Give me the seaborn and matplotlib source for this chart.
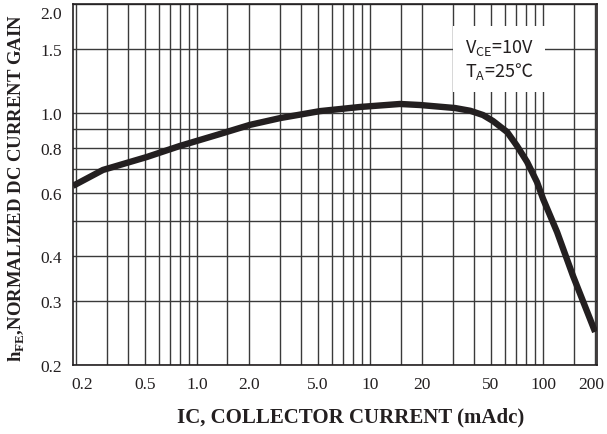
import numpy as np
import pandas as pd
import matplotlib
matplotlib.use("Agg")
import matplotlib.pyplot as plt
import matplotlib.transforms as mtransforms
import seaborn as sns

# ---- data ----
ic_ma = [0.192, 0.286, 0.514, 0.798, 1.36, 2.02, 3.02, 5.14, 8.75, 14.9, 19.5,
         31.0, 38.0, 45.0, 51.4, 62.0, 70.7, 80.9, 92.3, 100.0, 120.5, 149.0, 200.0]
hfe_norm = [0.627, 0.694, 0.754, 0.809, 0.873, 0.925, 0.966, 1.01, 1.037, 1.057, 1.05,
            1.03, 1.012, 0.985, 0.948, 0.884, 0.809, 0.730, 0.642, 0.577, 0.467, 0.353, 0.247]

x_tick_vals = [0.2, 0.5, 1.0, 2.0, 5.0, 10, 20, 50, 100, 200]
x_tick_labels = ["0.2", "0.5", "1.0", "2.0", "5.0", "10", "20", "50", "100", "200"]
y_tick_vals = [0.2, 0.3, 0.4, 0.6, 0.8, 1.0, 1.5, 2.0]
y_tick_labels = ["0.2", "0.3", "0.4", "0.6", "0.8", "1.0", "1.5", "2.0"]
x_grid_vals = [0.3, 0.4, 0.6, 0.7, 0.8, 0.9, 1.5, 3, 4, 6, 7, 8, 9,
               15, 30, 40, 60, 70, 80, 90, 150]
y_grid_vals = [0.5, 0.7, 0.9]

sns.set_style("white")
plt.rcParams["font.family"] = ["Liberation Serif", "DejaVu Serif"]
plt.rcParams["mathtext.fontset"] = "custom"
plt.rcParams["mathtext.rm"] = "Liberation Serif:bold"
plt.rcParams["mathtext.bf"] = "Liberation Serif:bold"
plt.rcParams["mathtext.sf"] = "Noto Sans CJK JP"

df = pd.DataFrame({"ic": ic_ma, "hfe": hfe_norm})

fig = plt.figure(figsize=(6.07, 4.35), dpi=100)
ax = fig.add_axes([73 / 607, 1 - 366 / 435, 524 / 607, 361 / 435])

sns.lineplot(data=df, x="ic", y="hfe", ax=ax, color="#231f20", linewidth=4.6,
             solid_capstyle="butt", zorder=5)

ax.set_xscale("log")
ax.set_yscale("log")
ax.set_xlim(0.192, 205)
ax.set_ylim(0.2, 2.0)

ax.set_xticks(x_tick_vals)
ax.set_xticklabels(x_tick_labels)
ax.set_yticks(y_tick_vals)
ax.set_yticklabels(y_tick_labels)
ax.set_xticks(x_grid_vals, minor=True)
ax.set_yticks(y_grid_vals, minor=True)
ax.xaxis.set_minor_formatter(matplotlib.ticker.NullFormatter())
ax.yaxis.set_minor_formatter(matplotlib.ticker.NullFormatter())
ax.tick_params(which="both", length=0)
ax.tick_params(axis="x", pad=8, labelsize=12.5, colors="#231f20")
ax.tick_params(axis="y", pad=8, labelsize=12.5, colors="#231f20")

ax.grid(which="both", color="#3a3a3a", linewidth=1.0)

for s in ax.spines.values():
    s.set_color("#231f20")
    s.set_linewidth(1.2)

# nudge edge tick labels inward like the reference
xl = ax.get_xticklabels()
xl[0].set_transform(xl[0].get_transform() + mtransforms.ScaledTranslation(6 / 100, 0, fig.dpi_scale_trans))
xl[-1].set_transform(xl[-1].get_transform() + mtransforms.ScaledTranslation(-4 / 100, 0, fig.dpi_scale_trans))
yl = ax.get_yticklabels()
yl[-1].set_transform(yl[-1].get_transform() + mtransforms.ScaledTranslation(0, -8 / 100, fig.dpi_scale_trans))

ax.set_xlabel("IC, COLLECTOR CURRENT (mAdc)", fontsize=15, fontweight="bold",
              color="#231f20")
ax.xaxis.set_label_coords((351 - 73) / 524, -(417 - 366) / 361)
ax.xaxis.label.set_va("center")
ax.set_ylabel(r"h$_{\mathbf{FE}}$,NORMALIZED DC CURRENT GAIN", fontsize=13.5,
              fontweight="bold", color="#231f20")
ax.yaxis.set_label_coords(-(73 - 17) / 524, (366 - 188) / 361)
ax.yaxis.label.set_va("center")

ax.text((499 - 73) / 524, (366 - 60) / 361,
        "V$_{\\mathsf{CE}}$=10V\nT$_{\\mathsf{A}}$=25\u2103",
        transform=ax.transAxes, ha="center", va="center", fontsize=13,
        family=["Noto Sans CJK JP", "DejaVu Sans"],
        color="#231f20", linespacing=1.15, zorder=6,
        bbox=dict(facecolor="white", edgecolor="none", pad=8))

fig.savefig("out.png", dpi=100)
